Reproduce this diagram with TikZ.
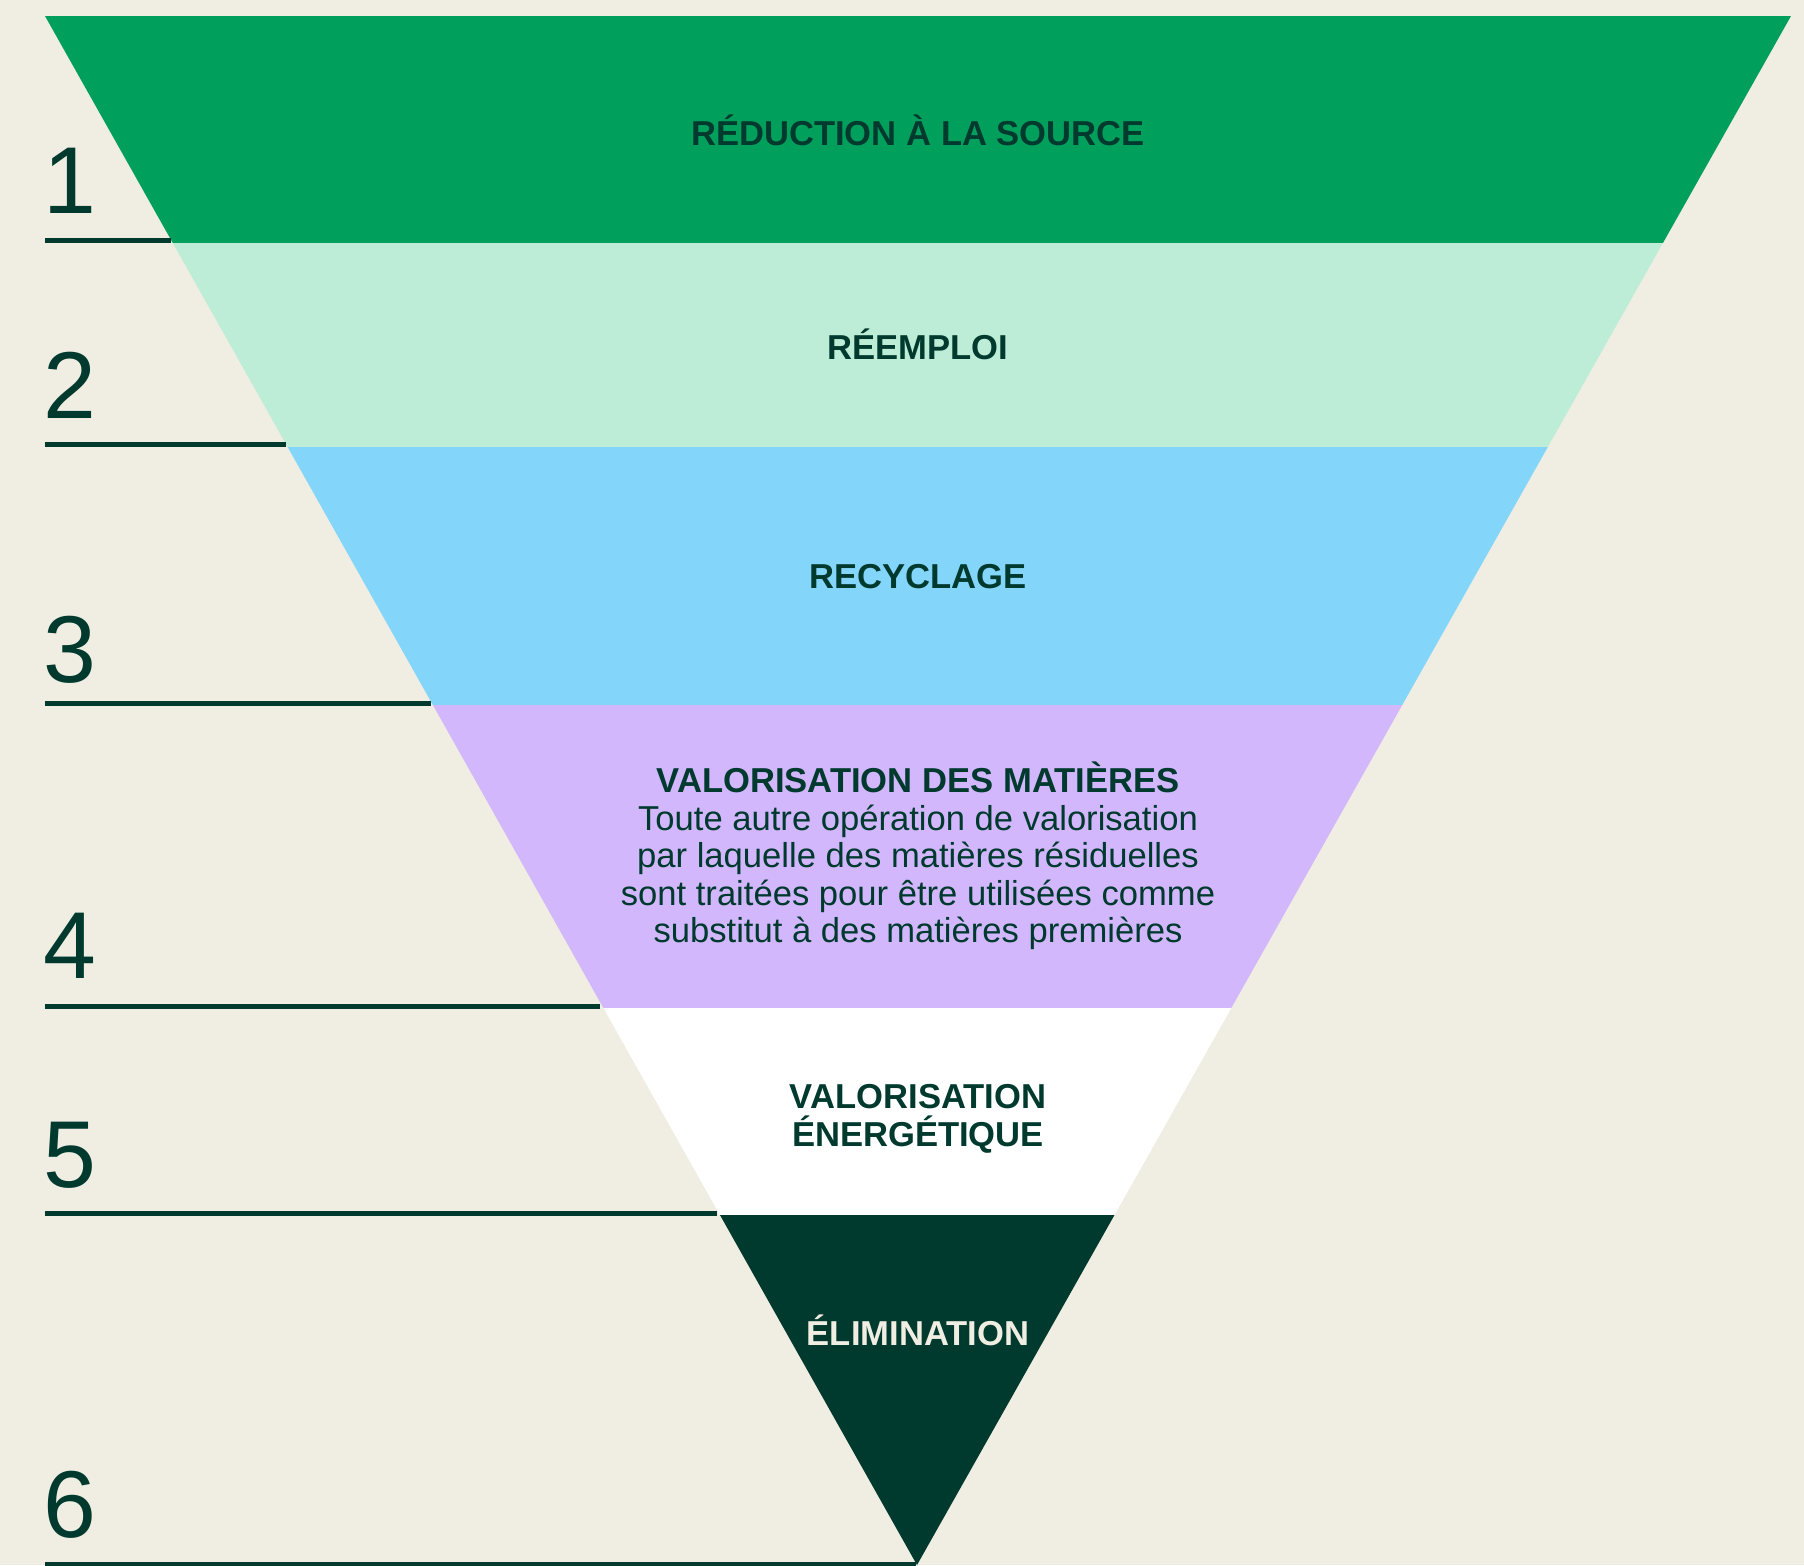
\documentclass[tikz,border=0pt]{standalone}
\usepackage{fontspec}
\setmainfont{Liberation Sans}
\definecolor{bgc}{HTML}{F0EDE2}
\definecolor{bandA}{HTML}{00A05C}
\definecolor{bandB}{HTML}{BDEDD6}
\definecolor{bandC}{HTML}{83D6FA}
\definecolor{bandD}{HTML}{D2B7FD}
\definecolor{bandE}{HTML}{FFFFFF}
\definecolor{darkg}{HTML}{003A2E}
\tikzset{
  lvl/.style={font=\fontsize{17.3}{18.9}\selectfont\bfseries, text=darkg, inner sep=0pt, align=center},
  bodytxt/.style={font=\fontsize{17.3}{18.75}\selectfont, text=darkg, inner sep=0pt, align=center},
  num/.style={font=\fontsize{47.5}{50}\selectfont, text=darkg, inner sep=0pt, anchor=base west},
  rule/.style={draw=darkg, line width=2.5pt}
}
\begin{document}
\begin{tikzpicture}[x=0.5pt,y=-0.5pt]
\fill[bgc] (0,0) rectangle (1804,1565);
\useasboundingbox (0,0) rectangle (1804,1565);
% bands clipped by the funnel triangle
\begin{scope}
  \clip (45,16) -- (1791,16) -- (917,1565) -- cycle;
  \fill[bandA] (0,0) rectangle (1804,243);
  \fill[bandB] (0,243) rectangle (1804,447);
  \fill[bandC] (0,447) rectangle (1804,705);
  \fill[bandD] (0,705) rectangle (1804,1008);
  \fill[bandE] (0,1008) rectangle (1804,1215);
  \fill[darkg] (0,1215) rectangle (1804,1570);
\end{scope}
% level rules
\coordinate (l1a) at (45,240);  \coordinate (l1b) at (171,240);
\coordinate (l2a) at (45,444);  \coordinate (l2b) at (286,444);
\coordinate (l3a) at (45,703);  \coordinate (l3b) at (431,703);
\coordinate (l4a) at (45,1006); \coordinate (l4b) at (600,1006);
\coordinate (l5a) at (45,1213); \coordinate (l5b) at (717,1213);
\coordinate (l6a) at (45,1564); \coordinate (l6b) at (916,1564);
\draw[rule] (l1a) -- (l1b);
\draw[rule] (l2a) -- (l2b);
\draw[rule] (l3a) -- (l3b);
\draw[rule] (l4a) -- (l4b);
\draw[rule] (l5a) -- (l5b);
\draw[rule] (l6a) -- (l6b);
% numbers
\node[num] (n1) at (43,213) {1};
\node[num] (n2) at (43,418) {2};
\node[num] (n3) at (43,682) {3};
\node[num] (n4) at (43,978) {4};
\node[num] (n5) at (43,1187) {5};
\node[num] (n6) at (43,1537) {6};
% labels
\node[lvl, anchor=base] (t1) at (918,145) {RÉDUCTION À LA SOURCE};
\node[lvl, anchor=base] (t2) at (918,359) {RÉEMPLOI};
\node[lvl, anchor=base] (t3) at (918,588) {RECYCLAGE};
\node[bodytxt] (t4) at (918,856) {\textbf{VALORISATION DES MATIÈRES}\\Toute autre opération de valorisation\\par laquelle des matières résiduelles\\sont traitées pour être utilisées comme\\substitut à des matières premières};
\node[lvl] (t5) at (918,1118.5) {VALORISATION\\ÉNERGÉTIQUE};
\node[lvl, anchor=base, text=bgc] (t6) at (918,1345) {ÉLIMINATION};
\end{tikzpicture}
\end{document}
